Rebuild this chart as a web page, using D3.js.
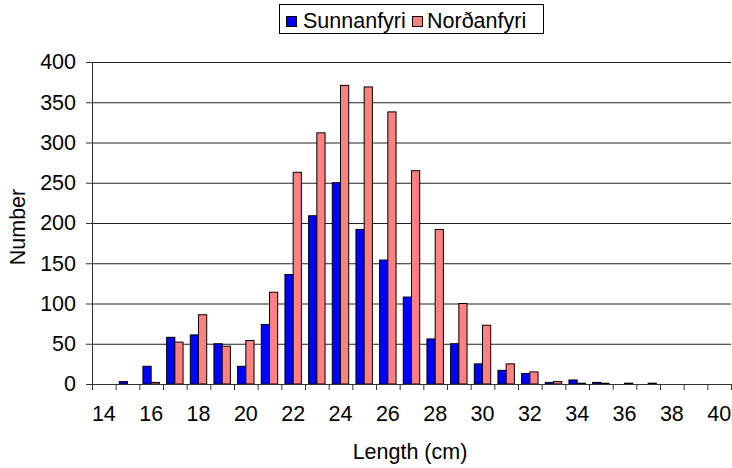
<!DOCTYPE html>
<html>
<head>
<meta charset="utf-8">
<script src="https://cdn.jsdelivr.net/npm/d3@7"></script>
<style>
  html, body { margin: 0; padding: 0; background: #fff; }
  svg { display: block; }
  text { font-family: "Liberation Sans", Arial, sans-serif; fill: #000; }
</style>
</head>
<body>
<svg id="chart" width="732" height="468"></svg>
<script>
const categories = [14,15,16,17,18,19,20,21,22,23,24,25,26,27,28,29,30,31,32,33,34,35,36,37,38,39,40];
const seriesNames = ["Sunnanfyri", "Norðanfyri"];
const sunnanfyri = [0,3,22,58,61,50,22,74,136,209,250,192,154,108,56,50,25,17,13,2,5,2,0,0,0,0,0];
const nordanfyri = [0,0,2,52,86,47,54,114,263,312,371,369,338,265,192,100,73,25,15,3,1,1,1,1,0,0,0];
const yTicks = [0,50,100,150,200,250,300,350,400];
const xTickLabels = [14,16,18,20,22,24,26,28,30,32,34,36,38,40];
const colors = ["#0000FF", "#FF8080"];

(function () {
const svg = d3.select("#chart");
const pLeft = 92, pRight = 731, pTop = 62, pBottom = 384;
const fontSize = "21.5px";

const x0 = d3.scaleBand().domain(categories).range([pLeft, pRight]).padding(0);
const x1 = d3.scaleBand().domain(seriesNames).range([0, x0.bandwidth()]).paddingInner(0).paddingOuter(0.44);
const y = d3.scaleLinear().domain([0, 400]).range([pBottom, pTop]);
const xEdge = d3.scaleLinear().domain([13.5, 40.5]).range([pLeft, pRight]);

// gridlines
const grid = svg.append("g").attr("transform", `translate(${pLeft},0)`)
  .call(d3.axisLeft(y).tickValues(yTicks.slice(1)).tickSize(-(pRight - pLeft)).tickFormat(""));
grid.select(".domain").remove();
grid.selectAll("line").attr("stroke", "#222").attr("stroke-width", 1);

// bars
const data = categories.map((c, i) => ({ c, vals: [sunnanfyri[i], nordanfyri[i]] }));
const groups = svg.append("g").selectAll("g").data(data).join("g")
  .attr("transform", d => `translate(${x0(d.c)},0)`);
groups.selectAll("rect")
  .data(d => d.vals.map((v, j) => ({ v, s: seriesNames[j], j })).filter(e => e.v > 0))
  .join("rect")
  .attr("x", d => x1(d.s))
  .attr("y", d => y(d.v))
  .attr("width", x1.bandwidth())
  .attr("height", d => y(0) - y(d.v))
  .attr("fill", d => colors[d.j])
  .attr("stroke", "#000")
  .attr("stroke-width", 1);

// y axis
const yAxis = svg.append("g").attr("transform", `translate(${pLeft},0)`)
  .call(d3.axisLeft(y).tickValues(yTicks).tickSize(6).tickPadding(10).tickSizeOuter(0));
yAxis.selectAll("text").style("font-size", fontSize);
yAxis.selectAll("line, path").attr("stroke", "#333");

// x axis tick marks at category edges
const edges = d3.range(13.5, 40.51, 1);
const xTicksG = svg.append("g").attr("transform", `translate(0,${pBottom})`)
  .call(d3.axisBottom(xEdge).tickValues(edges).tickSize(6).tickFormat("").tickSizeOuter(0));
xTicksG.selectAll("line, path").attr("stroke", "#333");

// x axis labels at category centres
const xLab = svg.append("g").attr("transform", `translate(0,${pBottom})`)
  .call(d3.axisBottom(x0).tickValues(xTickLabels).tickSize(0).tickPadding(22));
xLab.select(".domain").remove();
xLab.selectAll("text").style("font-size", fontSize);

// axis titles
svg.append("text").attr("x", 410).attr("y", 459).attr("text-anchor", "middle")
  .style("font-size", fontSize).text("Length (cm)");
svg.append("text").attr("transform", "translate(25,227) rotate(-90)").attr("text-anchor", "middle")
  .style("font-size", fontSize).text("Number");

// legend
const lg = svg.append("g");
lg.append("rect").attr("x", 279.5).attr("y", 4.5).attr("width", 264).attr("height", 29)
  .attr("fill", "#fff").attr("stroke", "#000");
const legendItems = [
  { name: seriesNames[0], color: colors[0], sx: 286, tx: 303 },
  { name: seriesNames[1], color: colors[1], sx: 412, tx: 427 }
];
legendItems.forEach(d => {
  lg.append("rect").attr("x", d.sx + 0.5).attr("y", 16.5).attr("width", 10).attr("height", 10)
    .attr("fill", d.color).attr("stroke", "#000");
  lg.append("text").attr("x", d.tx).attr("y", 28).style("font-size", fontSize).text(d.name);
});
})();
</script>
</body>
</html>
